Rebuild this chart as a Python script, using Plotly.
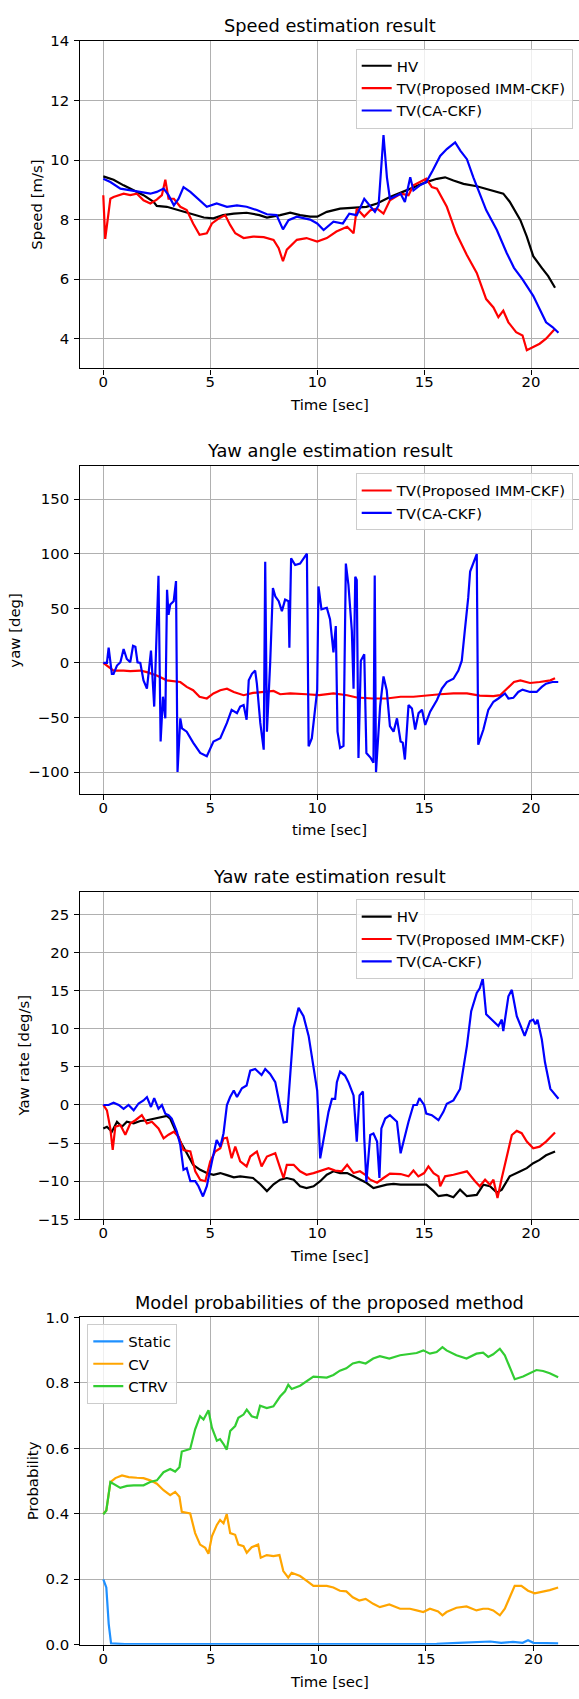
import plotly.graph_objects as go

W, H = 579, 1699
FONT = "DejaVu Sans"

# ---------------- Panel 1: speed ----------------
hv_speed_t = [0, 0.48, 0.95, 1.42, 1.88, 2.35, 2.5, 2.97, 3.6, 4.2, 4.7, 5.15, 5.6, 6.1, 6.7, 7.3, 7.65, 8.27, 8.74, 9.2,
              9.67, 10.0, 10.45, 11.07, 11.7, 12.3, 12.8, 13.4, 14.0, 14.5, 15.1, 15.6, 15.98, 16.37, 16.84, 17.46, 17.9,
              18.4, 18.7, 19.0, 19.5, 19.8, 20.1, 20.5, 20.8, 21.12]
hv_speed_v = [9.45, 9.34, 9.15, 8.98, 8.82, 8.6, 8.46, 8.43, 8.3, 8.18, 8.07, 8.04, 8.15, 8.2, 8.23, 8.15, 8.07, 8.15, 8.23, 8.15,
              8.1, 8.1, 8.26, 8.37, 8.4, 8.43, 8.54, 8.76, 8.93, 9.07, 9.26, 9.37, 9.42, 9.31, 9.2, 9.12, 9.04,
              8.95, 8.87, 8.6, 7.98, 7.43, 6.77, 6.38, 6.1, 5.71]

imm_speed_t = [0, 0.09, 0.33, 0.48, 0.95, 1.26, 1.57, 1.88, 2.2, 2.5, 2.74, 2.9, 3.05, 3.3, 3.6, 3.9, 4.2, 4.5, 4.84, 5.08,
               5.4, 5.7, 5.93, 6.17, 6.56, 7.0, 7.5, 7.96, 8.2, 8.4, 8.58, 9.05, 9.5, 10.0, 10.45, 10.9, 11.4, 11.7, 11.85,
               12.2, 12.5, 12.8, 13.1, 13.4, 13.9, 14.27, 14.5, 14.8, 15.1, 15.36, 15.6, 16.06, 16.5, 16.99, 17.46, 17.9,
               18.24, 18.47, 18.7, 18.94, 19.3, 19.6, 19.8, 20.1, 20.4, 20.7, 21.12]
imm_speed_v = [8.82, 7.35, 8.7, 8.76, 8.87, 8.82, 8.87, 8.65, 8.54, 8.67, 8.82, 9.34, 8.7, 8.7, 8.43, 8.32, 7.87, 7.49, 7.54, 7.87,
               8.04, 8.15, 7.82, 7.54, 7.38, 7.43, 7.41, 7.32, 7.04, 6.6, 6.99, 7.32, 7.38, 7.26, 7.38, 7.6, 7.76, 7.54, 8.37,
               8.1, 8.32, 8.37, 8.2, 8.65, 8.87, 8.82, 9.15, 9.26, 9.37, 9.09, 9.04, 8.43, 7.54, 6.82, 6.21, 5.33,
               5.05, 4.72, 4.94, 4.55, 4.22, 4.11, 3.61, 3.72, 3.83, 4.0, 4.33]

ca_speed_t = [0, 0.33, 0.8, 1.26, 1.73, 2.2, 2.5, 2.82, 3.05, 3.3, 3.52, 3.75, 4.07, 4.53, 4.84, 5.3, 5.78, 6.25, 6.7, 7.18,
              7.65, 8.1, 8.4, 8.66, 9.05, 9.67, 10.0, 10.3, 10.76, 11.2, 11.5, 11.85, 12.2, 12.5, 12.7, 12.87, 13.1, 13.26,
              13.4, 13.9, 14.1, 14.35, 14.5, 14.8, 15.1, 15.4, 15.75, 16.06, 16.45, 16.7, 17.0, 17.3, 17.6, 17.9, 18.4,
              18.86, 19.2, 19.6, 20.1, 20.4, 20.7, 21.0, 21.28]
ca_speed_v = [9.37, 9.26, 9.04, 8.98, 8.93, 8.87, 8.93, 9.04, 8.82, 8.48, 8.7, 9.09, 8.93, 8.65, 8.43, 8.54, 8.43, 8.48, 8.43, 8.32,
              8.18, 8.15, 7.67, 7.98, 8.1, 8.0, 7.87, 7.65, 7.93, 7.87, 8.2, 8.15, 8.7, 8.43, 8.26, 8.48, 10.84, 9.42,
              8.7, 8.87, 8.59, 9.42, 8.98, 9.15, 9.26, 9.65, 10.14, 10.37, 10.59, 10.31, 10.03, 9.42, 8.87, 8.32, 7.65,
              6.88, 6.38, 5.99, 5.44, 5.0, 4.55, 4.39, 4.2]

# ---------------- Panel 2: yaw angle ----------------
imm_yaw_t = [0, 0.25, 0.48, 0.95, 1.26, 1.73, 2.04, 2.5, 2.97, 3.6, 3.9, 4.2, 4.5, 4.84, 5.15, 5.47, 5.78, 6.1, 6.56, 7.0,
             7.5, 7.96, 8.27, 8.74, 9.5, 10.1, 10.76, 11.4, 11.85, 12.6, 13.25, 13.9, 14.5, 15.1, 15.75, 16.37, 17.0,
             17.6, 18.24, 18.55, 18.86, 19.2, 19.5, 19.95, 20.4, 20.9, 21.12]
imm_yaw_v = [0, -4, -7, -7, -7.5, -7, -8.5, -11.5, -16, -17.5, -22, -25, -31, -32.6, -28, -25, -23.6, -26.6, -29.6, -27.5,
             -26.6, -25.7, -28.7, -28, -28.7, -29.6, -28, -29.6, -31.7, -32.6, -32.6, -31, -31, -29.6, -28.7, -28, -28,
             -30, -30.5, -29.6, -23.6, -17.5, -16, -18.4, -17.5, -16, -14]

ca_yaw_t = [0, 0.17, 0.25, 0.4, 0.48, 0.64, 0.8, 0.95, 1.1, 1.26, 1.39, 1.5, 1.6, 1.73, 1.88, 2.04, 2.23, 2.38, 2.58, 2.68,
            2.79, 2.9, 2.98, 3.05, 3.13, 3.29, 3.4, 3.47, 3.6, 3.68, 3.9, 4.2, 4.53, 4.84, 5.15, 5.47, 5.78, 6.0, 6.25,
            6.4, 6.56, 6.7, 6.8, 6.95, 7.1, 7.18, 7.34, 7.5, 7.57, 7.65, 7.8, 7.93, 8.04, 8.2, 8.35, 8.5, 8.66, 8.7, 8.78,
            8.97, 9.2, 9.44, 9.52, 9.6, 9.75, 10.0, 10.06, 10.2, 10.45, 10.6, 10.76, 10.87, 10.95, 11.07, 11.23, 11.34,
            11.46, 11.62, 11.7, 11.78, 11.85, 11.93, 12.04, 12.2, 12.3, 12.5, 12.63, 12.69, 12.75, 12.94, 13.1, 13.25,
            13.4, 13.57, 13.73, 13.9, 14.0, 14.1, 14.27, 14.43, 14.58, 14.74, 14.9, 15.05, 15.28, 15.6, 15.83, 16.06,
            16.37, 16.6, 16.76, 16.9, 17.06, 17.15, 17.46, 17.53, 17.77, 18.0, 18.24, 18.47, 18.6, 18.78, 18.94, 19.17,
            19.4, 19.6, 19.95, 20.26, 20.5, 20.7, 21.0, 21.27]
ca_yaw_v = [0, 0, 14, -10, -10, -2.4, 0.6, 12.7, 3.6, 0.6, 15.7, 14.8, 0.6, 0, -16, -23.6, 11.2, -40, 79.8, -72,
            -31, -50.8, 67, 44, 53.5, 56.5, 75, -100, -50.8, -60, -63, -73, -82.5, -85.5, -72, -69, -55, -43, -46,
            -40, -38.7, -52, -16, -10, -7, -19, -55, -79.5, 92.7, -63, -1, 68.6, 61, 56.5, 47.4, 58, 56.5, 14, 95.8,
            89.7, 91, 97, 100, -76.4, -69, -25, 70, 49, 50.5, 40, 9.7, 33.8, -63, -78, -76, 91,
            71.6, 29.3, -23.6, 79, 76, -87, 2, 8, -82.5, -87, -91.5, 80, -100, -40, -12.4, -25,
            -58, -63, -50.8, -72, -73, -88.5, -38.7, -41.7, -61, -46, -43, -56.8, -44.7, -34, -23.6, -17.5,
            -14.5, -7, 2, 29.3, 59.5, 83.7, 99.7, -75, -61, -43, -35.6, -32.6, -31, -28, -32.6, -32,
            -26.6, -24.5, -26.6, -26.6, -22, -19, -17.5, -17.5]

# ---------------- Panel 3: yaw rate ----------------
hv_rate_t = [0, 0.17, 0.4, 0.64, 0.87, 1.1, 1.42, 1.73, 2.04, 2.35, 2.66, 2.97, 3.13, 3.36, 3.6, 3.9, 4.2, 4.53, 4.84, 5.15,
             5.47, 5.78, 6.1, 6.4, 6.7, 7.0, 7.34, 7.65, 7.96, 8.27, 8.58, 8.9, 9.2, 9.5, 9.83, 10.14, 10.45, 10.76,
             11.07, 11.4, 11.7, 12.0, 12.3, 12.63, 12.94, 13.25, 13.57, 13.9, 14.5, 15.1, 15.44, 15.67, 16.06, 16.37,
             16.68, 17.0, 17.46, 17.77, 18.08, 18.4, 18.63, 19.0, 19.5, 19.8, 20.1, 20.4, 20.7, 21.12]
hv_rate_v = [-3.08, -2.86, -3.5, -2.2, -2.86, -2.2, -2.4, -2.1, -2.0, -1.8, -1.56, -1.43, -1.8, -3.3, -4.8, -6.3, -7.85, -8.5, -8.93, -9.15,
             -8.93, -9.2, -9.5, -9.36, -9.5, -9.58, -10.4, -11.3, -10.4, -9.8, -9.58, -9.8, -10.66, -10.9, -10.66, -10.0, -9.15, -8.7,
             -8.93, -8.93, -9.36, -9.8, -10.2, -10.9, -10.66, -10.45, -10.36, -10.45, -10.45, -10.45, -11.3, -11.96, -11.8, -12.1,
             -11.1, -11.96, -11.8, -10.45, -10.66, -11.5, -11.1, -9.36, -8.7, -8.28, -7.63, -7.2, -6.6, -6.1]

imm_rate_t = [0, 0.17, 0.33, 0.44, 0.56, 0.8, 1.03, 1.26, 1.5, 1.8, 2.04, 2.27, 2.58, 2.82, 3.05, 3.3, 3.52, 3.75, 4.07, 4.3,
              4.53, 4.77, 5.0, 5.23, 5.47, 5.62, 5.78, 6.0, 6.17, 6.4, 6.7, 6.87, 7.18, 7.4, 7.65, 8.04, 8.27, 8.43, 8.58,
              8.9, 9.2, 9.5, 9.83, 10.14, 10.53, 10.84, 11.15, 11.4, 11.7, 12.0, 12.25, 12.48, 12.8, 13.1, 13.4, 13.9,
              14.27, 14.5, 14.73, 15.0, 15.2, 15.44, 15.67, 15.75, 15.98, 16.37, 17.0, 17.38, 17.6, 17.85, 18.08, 18.24,
              18.43, 18.63, 18.86, 19.1, 19.33, 19.56, 19.8, 20.1, 20.4, 20.7, 21.12]
imm_rate_v = [0, -0.7, -3.1, -5.9, -2.86, -2.64, -3.9, -2.43, -2.0, -1.34, -2.43, -2.2, -3.08, -4.38, -3.9, -3.5, -4.16, -5.9, -6.1, -8.7,
              -9.8, -10.0, -7.4, -6.1, -5.68, -4.38, -4.3, -6.98, -5.46, -7.4, -8.06, -6.76, -6.1, -8.06, -6.76, -6.33, -8.28, -9.58, -7.85,
              -7.85, -8.7, -9.15, -8.93, -8.6, -8.28, -8.6, -8.7, -7.85, -8.93, -8.7, -9.15, -9.8, -10.2, -9.58, -9.0, -9.06,
              -9.36, -8.6, -9.36, -8.93, -8.06, -8.93, -9.36, -10.66, -9.36, -9.15, -8.7, -10.0, -10.66, -9.8, -10.45, -9.8,
              -12.2, -9.58, -6.76, -3.94, -3.4, -3.7, -4.8, -5.68, -5.46, -4.8, -3.6]

ca_rate_t = [0, 0.25, 0.48, 0.72, 0.95, 1.18, 1.42, 1.65, 1.88, 2.04, 2.23, 2.38, 2.58, 2.74, 2.9, 3.05, 3.2, 3.44, 3.6, 3.75,
             3.9, 4.07, 4.3, 4.45, 4.66, 4.84, 5.08, 5.3, 5.47, 5.62, 5.78, 5.93, 6.1, 6.25, 6.48, 6.7, 6.87, 7.1, 7.4,
             7.57, 7.8, 8.04, 8.27, 8.43, 8.58, 8.74, 8.9, 9.13, 9.36, 9.6, 9.83, 10.0, 10.14, 10.3, 10.53, 10.69, 10.84,
             10.92, 11.07, 11.3, 11.46, 11.7, 11.85, 11.98, 12.14, 12.2, 12.3, 12.48, 12.63, 12.8, 12.91, 13.0, 13.18,
             13.4, 13.73, 13.9, 14.1, 14.27, 14.5, 14.66, 14.78, 15.0, 15.1, 15.36, 15.67, 15.9, 16.06, 16.37, 16.68,
             17.0, 17.2, 17.46, 17.6, 17.74, 17.9, 18.24, 18.47, 18.63, 18.7, 18.94, 19.1, 19.33, 19.5, 19.7, 19.95,
             20.1, 20.2, 20.3, 20.5, 20.65, 20.9, 21.0, 21.28]
ca_rate_v = [0, 0, 0.3, 0, -0.5, 0, -0.7, 0.2, 0.6, 1.04, -0.26, 0.9, -0.5, 0, -1.13, -1.34, -1.78, -3.5, -5.25, -8.5,
             -8.28, -10.0, -10.0, -10.66, -12.0, -10.66, -7.4, -4.6, -5.46, -3.73, 0, 1.04, 1.9, 1.04, 2.2, 2.56, 4.5, 4.72, 3.94,
             4.72, 4.07, 3.0, -0.26, -2.3, -2.2, 4.72, 10.14, 12.74, 11.66, 9.06, 4.72, 1.9, -7.0, -4.6, -0.9, 0.8, 0.8,
             3.0, 4.38, 3.86, 3.0, 1.26, -4.8, 1.26, 1.78, -4.38, -10.1, -3.94, -3.73, -4.8, -9.58, -3.08, -1.78,
             -1.34, -2.2, -6.33, -3.94, -2.2, 0, 0, 0.9, 0, -1.13, -1.34, -2.0, -0.9, 0.17, 0.6, 2.1,
             7.76, 12.3, 14.7, 15.3, 16.6, 11.9, 11.0, 10.36, 11.2, 9.7, 14.26, 15.1, 11.66, 10.36, 9.06, 11.0,
             11.2, 10.58, 11.2, 8.63, 5.6, 2.12, 1.78, 0.82]

# ---------------- Panel 4: model probabilities ----------------
static_t = [0, 0.14, 0.25, 0.36, 1.0, 3.0, 5.0, 7.0, 8.3, 10.0, 12.0, 14.0, 15.5, 16.5, 17.5, 18.0, 18.5, 19.05, 19.5, 19.75,
            20.0, 20.5, 21.15]
static_v = [0.2, 0.175, 0.064, 0.004, 0.002, 0.002, 0.003, 0.002, 0.004, 0.004, 0.002, 0.002, 0.003, 0.006, 0.009, 0.01, 0.006, 0.009, 0.006, 0.014,
            0.006, 0.005, 0.004]

cv_t = [0, 0.14, 0.33, 0.56, 0.87, 1.18, 1.56, 1.87, 2.18, 2.49, 2.8, 3.11, 3.34, 3.54, 3.65, 4.04, 4.27, 4.5, 4.74, 4.89,
        5.05, 5.28, 5.43, 5.59, 5.74, 5.9, 6.13, 6.28, 6.52, 6.67, 6.9, 7.2, 7.32, 7.6, 7.91, 8.19, 8.37, 8.6, 8.76,
        9.15, 9.46, 9.77, 10.39, 10.7, 11.0, 11.3, 11.6, 11.9, 12.2, 12.55, 12.86, 13.3, 13.8, 14.26, 14.57, 14.88,
        15.19, 15.57, 15.77, 15.96, 16.42, 16.89, 17.35, 17.66, 17.9, 18.13, 18.44, 18.67, 18.9, 19.13, 19.44, 19.75,
        20.06, 20.45, 20.76, 21.15]
cv_v = [0.4, 0.41, 0.497, 0.509, 0.517, 0.512, 0.51, 0.509, 0.502, 0.492, 0.472, 0.457, 0.467, 0.452, 0.406, 0.401, 0.341, 0.306, 0.296, 0.278,
        0.331, 0.366, 0.381, 0.371, 0.399, 0.341, 0.336, 0.306, 0.301, 0.281, 0.298, 0.306, 0.266, 0.274, 0.271, 0.274, 0.225, 0.205, 0.22,
        0.21, 0.195, 0.18, 0.18, 0.175, 0.165, 0.163, 0.145, 0.135, 0.14, 0.125, 0.115, 0.123, 0.11, 0.11, 0.105, 0.1,
        0.11, 0.102, 0.09, 0.1, 0.113, 0.117, 0.105, 0.11, 0.11, 0.105, 0.09, 0.11, 0.145, 0.18, 0.18, 0.165,
        0.157, 0.162, 0.167, 0.175]

ctrv_t = [0, 0.14, 0.33, 0.56, 0.79, 1.1, 1.41, 1.87, 2.18, 2.49, 2.8, 3.11, 3.34, 3.54, 3.65, 4.04, 4.27, 4.5, 4.66, 4.89,
          5.05, 5.28, 5.43, 5.59, 5.74, 5.9, 6.13, 6.28, 6.52, 6.67, 6.9, 7.14, 7.29, 7.6, 7.91, 8.22, 8.45, 8.6, 8.76,
          9.15, 9.46, 9.77, 10.39, 10.7, 11.0, 11.3, 11.6, 11.9, 12.2, 12.55, 12.86, 13.3, 13.8, 14.26, 14.57, 14.88,
          15.19, 15.5, 15.77, 15.96, 16.42, 16.89, 17.35, 17.66, 17.9, 18.13, 18.44, 18.67, 18.9, 19.13, 19.52, 19.83,
          20.14, 20.45, 20.76, 21.15]
ctrv_v = [0.398, 0.41, 0.497, 0.487, 0.479, 0.485, 0.487, 0.487, 0.497, 0.502, 0.527, 0.537, 0.529, 0.542, 0.59, 0.598, 0.658, 0.698, 0.688, 0.716,
          0.663, 0.623, 0.628, 0.613, 0.596, 0.653, 0.668, 0.693, 0.703, 0.718, 0.698, 0.693, 0.73, 0.723, 0.728, 0.758, 0.774, 0.794, 0.781,
          0.791, 0.804, 0.819, 0.816, 0.824, 0.837, 0.844, 0.859, 0.864, 0.859, 0.874, 0.881, 0.874, 0.884, 0.889, 0.891, 0.899,
          0.889, 0.894, 0.909, 0.899, 0.884, 0.874, 0.889, 0.892, 0.879, 0.887, 0.904, 0.884, 0.849, 0.811, 0.819, 0.829,
          0.839, 0.836, 0.829, 0.817]

titles = ["Speed estimation result", "Yaw angle estimation result", "Yaw rate estimation result",
          "Model probabilities of the proposed method"]
xlabels = ["Time [sec]", "time [sec]", "Time [sec]", "Time [sec]"]
ylabels = ["Speed [m/s]", "yaw [deg]", "Yaw rate [deg/s]", "Probability"]

# ---------------- layout geometry (pixels) ----------------
AX_LEFT = 80.3
panels_px = [(32.3, 363.3), (462.3, 793.3), (892.0, 1223.3), (1322.3, 1653.3)]
xranges = [[-1.075, 22.24], [-1.075, 22.24], [-1.075, 22.24], [-1.07, 22.12]]
yranges = [[3, 14], [-120, 180], [-15, 28], [0, 1]]
ydticks = [2, 50, 5, 0.2]
title_y = [16.7, 446.7, 876.7, 1307.0]
xlab_y = [400.0, 830.0, 1260.0, 1690.5]
ylab_x = [37.0, 15.5, 24.0, 33.2]
FS = 14.9     # 10 pt text
FS_T = 17.8   # 12 pt titles


def px(x):
    return x / W


def py(y):
    return (H - y) / H


fig = go.Figure()


def add(x, y, name, color, idx, legend):
    fig.add_trace(go.Scatter(x=x, y=y, mode="lines", name=name,
                             line=dict(color=color, width=2.2),
                             xaxis="x" if idx == 1 else f"x{idx}",
                             yaxis="y" if idx == 1 else f"y{idx}",
                             legend=legend))


add(hv_speed_t, hv_speed_v, "HV", "black", 1, "legend")
add(imm_speed_t, imm_speed_v, "TV(Proposed IMM-CKF)", "red", 1, "legend")
add(ca_speed_t, ca_speed_v, "TV(CA-CKF)", "blue", 1, "legend")

add(imm_yaw_t, imm_yaw_v, "TV(Proposed IMM-CKF)", "red", 2, "legend2")
add(ca_yaw_t, ca_yaw_v, "TV(CA-CKF)", "blue", 2, "legend2")

add(hv_rate_t, hv_rate_v, "HV", "black", 3, "legend3")
add(imm_rate_t, imm_rate_v, "TV(Proposed IMM-CKF)", "red", 3, "legend3")
add(ca_rate_t, ca_rate_v, "TV(CA-CKF)", "blue", 3, "legend3")

add(static_t, static_v, "Static", "#1E90FF", 4, "legend4")
add(cv_t, cv_v, "CV", "#FFA500", 4, "legend4")
add(ctrv_t, ctrv_v, "CTRV", "#32CD32", 4, "legend4")

tickfont = dict(family=FONT, size=FS, color="black")
layout = dict(
    width=W, height=H,
    margin=dict(l=0, r=0, t=0, b=0),
    paper_bgcolor="white", plot_bgcolor="white",
    font=dict(family=FONT, size=FS, color="black"),
    showlegend=True,
)
annotations = []
for i in range(4):
    k = "" if i == 0 else str(i + 1)
    top, bot = panels_px[i]
    layout["xaxis" + k] = dict(
        domain=[px(AX_LEFT), 1.0], range=xranges[i], anchor="y" + k,
        tick0=0, dtick=5, showgrid=True, gridcolor="#b0b0b0", gridwidth=1.1,
        zeroline=False, showline=True, linecolor="black", linewidth=1.1, mirror=True,
        ticks="outside", ticklen=5, tickwidth=1.1, tickcolor="black",
        tickfont=tickfont, ticklabelstandoff=-5, fixedrange=True,
    )
    layout["yaxis" + k] = dict(
        domain=[py(bot), py(top)], range=yranges[i], anchor="x" + k,
        tick0=0, dtick=ydticks[i], showgrid=True, gridcolor="#b0b0b0", gridwidth=1.1,
        zeroline=False, showline=True, linecolor="black", linewidth=1.1,
        ticks="outside", ticklen=5, tickwidth=1.1, tickcolor="black",
        tickfont=tickfont, ticklabelstandoff=2, fixedrange=True,
        tickformat=".1f" if i == 3 else None,
    )
    cx = (AX_LEFT + W) / 2
    annotations.append(dict(text=titles[i], x=px(cx), y=py(title_y[i]), xref="paper", yref="paper",
                            xanchor="center", yanchor="middle", showarrow=False,
                            font=dict(family=FONT, size=FS_T, color="black")))
    annotations.append(dict(text=xlabels[i], x=px(cx), y=py(xlab_y[i]), xref="paper", yref="paper",
                            xanchor="center", yanchor="middle", showarrow=False,
                            font=dict(family=FONT, size=FS, color="black")))
    annotations.append(dict(text=ylabels[i], x=px(ylab_x[i]), y=py((top + bot) / 2), xref="paper", yref="paper",
                            xanchor="center", yanchor="middle", showarrow=False, textangle=-90,
                            font=dict(family=FONT, size=FS, color="black")))
layout["annotations"] = annotations

leg_common = dict(bgcolor="rgba(255,255,255,0.8)", bordercolor="#cccccc", borderwidth=1,
                  font=dict(family=FONT, size=FS, color="black"), xref="paper", yref="paper",
                  tracegroupgap=0)
layout["legend"] = dict(leg_common, x=px(572.7), xanchor="right", y=py(40.0), yanchor="top")
layout["legend2"] = dict(leg_common, x=px(572.7), xanchor="right", y=py(469.3), yanchor="top")
layout["legend3"] = dict(leg_common, x=px(572.7), xanchor="right", y=py(900.0), yanchor="top")
layout["legend4"] = dict(leg_common, x=px(87.3), xanchor="left", y=py(1329.3), yanchor="top")

fig.update_layout(**layout)
fig.write_html("out.html")
